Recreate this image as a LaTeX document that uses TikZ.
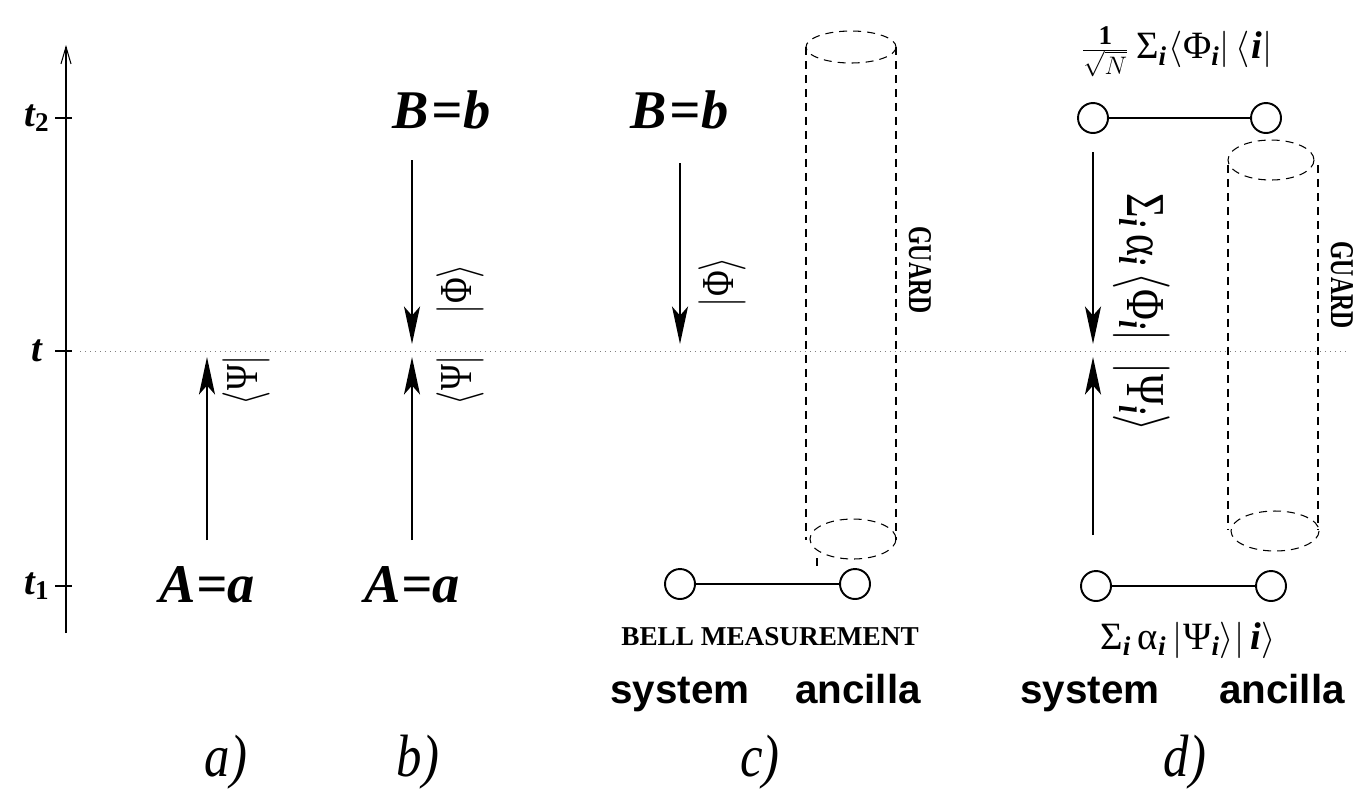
\documentclass[tikz,border=0pt]{standalone}
\usepackage{fontspec}
\setmainfont{Liberation Serif}
\newfontfamily\sansfam{Liberation Sans}
\usetikzlibrary
  {
    arrows.meta,   % arrow tips
    positioning,   % place nodes relative to other nodes
  }

\newcommand{\bi}{\bfseries\itshape}
\newcommand{\ix}{\textsubscript{\bi i}}
\newcommand{\tall}[1]{\scalebox{1}[1.3]{#1}}

\begin{document}
\begin{tikzpicture}
    [
      x=0.02cm, y=-0.02cm,
      event/.style=
        {
          font=\fontsize{31}{33}\selectfont\bi,
          inner sep=0pt,
        },
      tmark/.style=
        {
          font=\fontsize{22}{24}\selectfont\bi,
          inner sep=0pt,
        },
      panel/.style=
        {
          font=\fontsize{34}{36}\selectfont\itshape,
          inner sep=0pt,
        },
      ket/.style=
        {
          font=\fontsize{20}{22}\selectfont,
          inner sep=0pt,
        },
      formula/.style=
        {
          font=\fontsize{22}{24}\selectfont,
          inner sep=0pt,
        },
      tag/.style=
        {
          font=\fontsize{23}{25}\selectfont\sansfam\bfseries,
          inner sep=0pt,
          anchor=base,
        },
      guardtext/.style=
        {
          font=\fontsize{13.5}{15}\selectfont\bfseries,
          inner sep=0pt,
          rotate=-90,
        },
      qubit/.style=
        {
          circle,
          draw,
          line width=1.1pt,
          minimum size=0.6cm,
          inner sep=0pt,
        },
      bond/.style={line width=0.9pt},
      flow/.style={-{Stealth[length=0.75cm, width=0.32cm, inset=0.18cm]}, line width=1.4pt},
      guard/.style={line width=0.6pt, dash pattern=on 0.16cm off 0.12cm},
      now/.style={gray, line width=0.5pt, dash pattern=on 0.02cm off 0.08cm},
    ]
    \useasboundingbox (0,0) rectangle (1368,796);

    % time axis
    \coordinate (axis bottom) at (66,633);
    \coordinate (axis top)    at (66,45);
    \draw[line width=0.6pt, -{Straight Barb[length=0.34cm, width=0.2cm]}]
      (axis bottom) -- (axis top);
    \foreach \y/\name/\lab in {118/t2/{t\textsubscript{\upshape 2}},
                               351/t/{t},
                               586/t1/{t\textsubscript{\upshape 1}}}
      {
        \node[tmark] (\name) at (37,\y) {\lab};
        \coordinate (tick \name) at (55,\y);
        \draw[line width=0.6pt] (tick \name) -- ++(17,0);
      }
    \coordinate (now left)  at (80,351);
    \coordinate (now right) at (1345,351);
    \draw[now] (now left) -- (now right);

    % a)
    \node[event] (Aa a) at (207,585) {A=a};
    \coordinate (a up from) at (207,540);
    \coordinate (a up to)   at (207,357);
    \draw[flow] (a up from) -- (a up to);
    \node[ket, rotate=90] (psi a) at (246,380) {\tall{$\langle$Ψ$|$}};
    \node[panel] (label a) at (226,762) {\scalebox{0.85}[1]{a)}};

    % b)
    \node[event] (Aa b) at (412,585) {A=a};
    \node[event] (Bb b) at (442,110) {B\kern1pt=\kern1pt b};
    \coordinate (b up from)   at (412,540);
    \coordinate (b up to)     at (412,357);
    \coordinate (b down from) at (412,160);
    \coordinate (b down to)   at (412,344);
    \draw[flow] (b up from) -- (b up to);
    \draw[flow] (b down from) -- (b down to);
    \node[ket, rotate=90] (psi b) at (460,380) {\tall{$\langle$Ψ$|$}};
    \node[ket, rotate=90] (phi b) at (460,289) {\tall{$|$Φ$\rangle$}};
    \node[panel] (label b) at (418,762) {\scalebox{0.85}[1]{b)}};

    % c)
    \node[event] (Bb c) at (680,110) {B\kern1pt=\kern1pt b};
    \coordinate (c down from) at (680,163);
    \coordinate (c down to)   at (680,344);
    \draw[flow] (c down from) -- (c down to);
    \node[ket, rotate=90] (phi c) at (722,282) {\tall{$|$Φ$\rangle$}};
    \draw[guard] (851,47) ellipse[x radius=45, y radius=16];
    \draw[guard] (806,47) -- (806,540) (896,47) -- (896,540);
    \draw[guard] (853,539) ellipse[x radius=43, y radius=20];
    \draw[guard] (817,558) -- (817,568);
    \node[guardtext] (guard c) at (920,270) {\scalebox{1}[1.4]{GUARD}};
    \node[qubit] (sys c) at (680,584) {};
    \node[qubit] (anc c) at (855,584) {};
    \draw[bond] (sys c) -- (anc c);
    \node[font=\fontsize{15.5}{17}\selectfont\bfseries, inner sep=0pt]
      (bell) at (770,637) {BELL MEASUREMENT};
    \node[tag] (system c)  at (680,703) {system};
    \node[tag] (ancilla c) at (858,703) {ancilla};
    \node[panel] (label c) at (760,762) {\scalebox{0.85}[1]{c)}};

    % d)
    \node[formula] (post d) at (1177,52)
      {$\frac{\mathbf{1}}{\sqrt{N}}$\kern4pt Σ\ix\kern1pt$\langle$Φ\ix$|\,\langle$\kern1pt\textbf{\textit{i}}$|$};
    \node[qubit] (sys d top) at (1093,118) {};
    \node[qubit] (anc d top) at (1266,118) {};
    \draw[bond] (sys d top) -- (anc d top);
    \coordinate (d down from) at (1093,152);
    \coordinate (d down to)   at (1093,344);
    \coordinate (d up from)   at (1093,535);
    \coordinate (d up to)     at (1093,357);
    \draw[flow] (d down from) -- (d down to);
    \draw[flow] (d up from) -- (d up to);
    \node[ket, font=\fontsize{24}{26}\selectfont, rotate=-90, anchor=east] (phi d) at (1142,342)
      {\tall{Σ\ix\,α\ix\,$\langle$Φ\ix$|$}};
    \node[ket, font=\fontsize{24}{26}\selectfont, rotate=-90, anchor=west] (psi d) at (1142,362)
      {\tall{$|$Ψ\ix$\rangle$}};
    \draw[guard] (1271,160) ellipse[x radius=43, y radius=20];
    \draw[guard] (1228,165) -- (1228,530) (1318,165) -- (1318,530);
    \draw[guard] (1275,531) ellipse[x radius=44, y radius=20];
    \node[guardtext] (guard d) at (1342,285) {\scalebox{1}[1.4]{GUARD}};
    \node[qubit] (sys d) at (1096,586) {};
    \node[qubit] (anc d) at (1271,586) {};
    \draw[bond] (sys d) -- (anc d);
    \node[formula] (pre d) at (1188,640)
      {Σ\ix\,α\ix\,$|$Ψ\ix$\rangle|$\,\textbf{\textit{i}}$\rangle$};
    \node[tag] (system d)  at (1090,703) {system};
    \node[tag] (ancilla d) at (1282,703) {ancilla};
    \node[panel] (label d) at (1185,762) {\scalebox{0.85}[1]{d)}};
\end{tikzpicture}
\end{document}
